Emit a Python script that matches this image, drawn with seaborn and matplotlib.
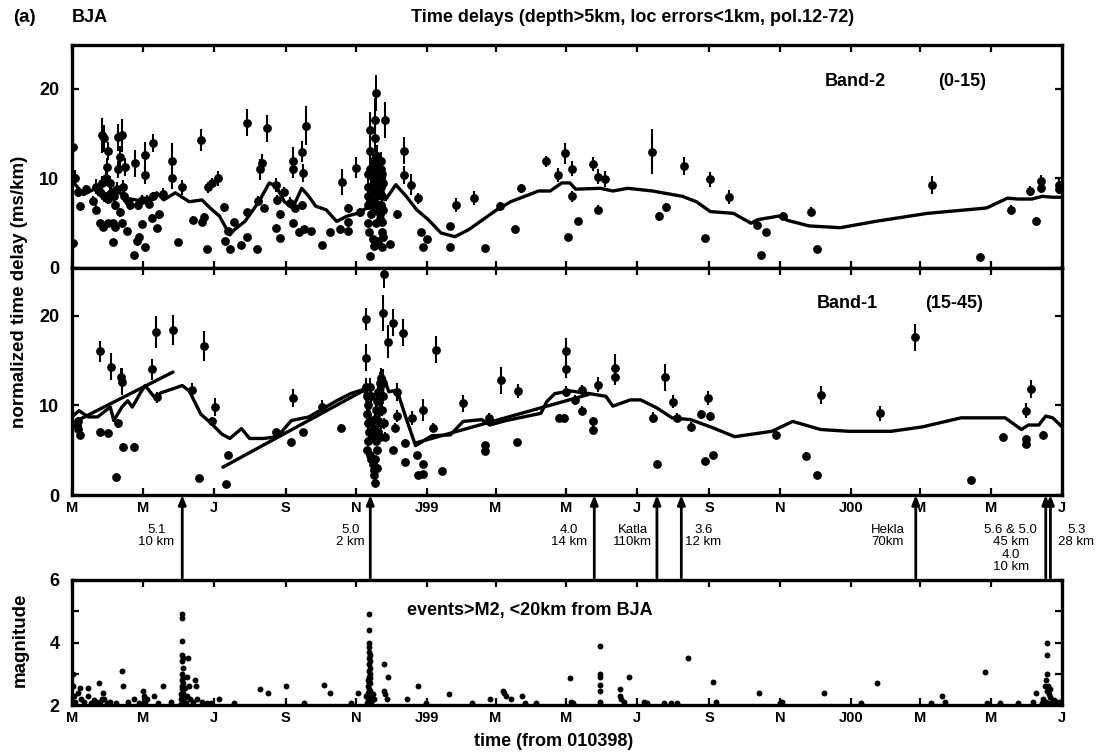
import numpy as np
import pandas as pd
import matplotlib
matplotlib.use("Agg")
import matplotlib.pyplot as plt
import seaborn as sns

# ---------------- data ----------------
START = pd.Timestamp("1998-03-01")
tick_dates = ["1998-03-01", "1998-05-01", "1998-07-01", "1998-09-01", "1998-11-01",
              "1999-01-01", "1999-03-01", "1999-05-01", "1999-07-01", "1999-09-01",
              "1999-11-01", "2000-01-01", "2000-03-01", "2000-05-01", "2000-07-01"]
tick_labels = ["M", "M", "J", "S", "N", "J99", "M", "M", "J", "S", "N", "J00", "M", "M", "J"]

# Band-2 (0-15) time delays: day since 010398, value (ms/km), error half-length
b2_day = [1, 1, 3, 5, 7, 12, 21, 21, 26, 28,
          31, 30, 29, 28, 31, 34, 27, 31, 37, 35,
          40, 43, 41, 40, 39, 44, 41, 46, 47, 54,
          53, 56, 58, 60, 63, 63, 63, 70, 69, 73,
          75, 60, 65, 57, 86, 86, 95, 91, 104, 112,
          114, 111, 116, 117, 121, 126, 131, 134, 132, 136,
          140, 146, 151, 151, 159, 151, 162, 160, 168, 164,
          165, 176, 177, 179, 176, 179, 183, 188, 190, 190,
          192, 190, 196, 198, 199, 198, 202, 200, 206, 215,
          222, 231, 233, 238, 238, 238, 245, 248, 255, 255,
          255, 255, 255, 256, 257, 257, 257, 258, 258, 257,
          258, 257, 259, 259, 260, 260, 259, 260, 259, 260,
          261, 261, 262, 261, 262, 262, 261, 262, 262, 263,
          263, 263, 263, 264, 264, 264, 265, 264, 265, 265,
          264, 266, 266, 266, 266, 267, 266, 267, 267, 267,
          268, 268, 267, 270, 274, 268, 280, 286, 286, 292,
          298, 301, 306, 302, 326, 326, 331, 346, 356, 369,
          382, 387, 408, 419, 425, 431, 431, 427, 436, 449,
          453, 459, 453, 500, 506, 512, 527, 545, 550, 566,
          590, 594, 598, 613, 637, 642, 741, 782, 809, 825,
          831, 835, 835, 850, 850, 18, 24, 26, 33, 36,
          37, 45, 48, 50, 24, 35, 43, 66, 70, 78]
b2_val = [13.5, 2.8, 10.1, 8.5, 6.9, 8.8, 9.1, 6.5, 14.8, 14.5,
          13.1, 11.3, 10.0, 8.0, 7.7, 8.4, 4.6, 5.0, 4.6, 2.9,
          14.6, 14.8, 12.4, 11.0, 8.8, 9.0, 6.2, 11.3, 4.1, 11.7,
          1.5, 3.0, 3.5, 4.9, 12.6, 10.4, 2.3, 14.0, 5.6, 4.5,
          6.0, 7.6, 7.6, 7.0, 12.0, 10.0, 9.0, 2.9, 5.4, 5.1,
          5.7, 14.3, 2.1, 9.0, 9.5, 10.0, 6.8, 4.1, 3.0, 2.1,
          5.1, 2.6, 3.5, 6.2, 2.1, 16.2, 11.0, 7.5, 15.6, 11.7,
          6.7, 9.3, 7.6, 6.0, 4.5, 3.4, 8.5, 7.3, 12.0, 11.0,
          6.7, 5.0, 4.0, 13.0, 10.6, 7.0, 15.9, 4.3, 4.1, 2.6,
          4.0, 4.3, 9.6, 6.7, 5.1, 4.1, 11.2, 6.2, 8.0, 9.0,
          10.5, 7.0, 5.0, 4.0, 15.4, 13.1, 11.0, 9.0, 8.0, 7.5,
          6.0, 1.3, 12.0, 10.0, 9.5, 8.5, 7.0, 6.5, 3.2, 2.5,
          16.5, 14.5, 12.0, 11.0, 10.0, 9.0, 8.0, 5.0, 19.5, 12.5,
          11.0, 9.5, 8.0, 11.5, 10.5, 9.0, 8.5, 7.0, 6.0, 5.5,
          3.0, 12.0, 11.0, 10.0, 9.0, 8.0, 7.0, 5.1, 4.0, 10.5,
          9.5, 6.5, 2.4, 16.5, 2.7, 3.5, 6.0, 13.1, 10.4, 9.3,
          7.8, 4.0, 3.2, 2.3, 4.7, 2.4, 7.0, 7.8, 2.2, 6.9,
          4.3, 8.9, 11.9, 10.4, 12.8, 11.1, 8.0, 3.5, 5.2, 11.6,
          10.2, 9.9, 6.5, 13.0, 5.8, 6.8, 11.4, 3.3, 9.9, 7.9,
          4.8, 1.4, 4.0, 5.8, 6.3, 2.1, 9.3, 1.2, 6.5, 8.6,
          5.3, 9.7, 8.9, 9.3, 8.8, 7.5, 8.5, 9.5, 9.5, 8.0,
          7.0, 8.0, 7.5, 7.0, 5.0, 5.0, 5.0, 7.2, 8.0, 8.3]
b2_err = [1.5, 0.0, 0.8, 0.6, 0.5, 0.5, 0.8, 0.5, 2.0, 1.5,
          1.0, 1.0, 0.8, 0.6, 0.5, 0.6, 0.3, 0.3, 0.3, 0.0,
          1.5, 1.8, 1.2, 1.0, 0.8, 0.8, 0.5, 1.0, 0.3, 1.5,
          0.0, 0.3, 0.3, 0.3, 1.5, 1.0, 0.0, 1.0, 0.4, 0.3,
          0.5, 0.5, 0.5, 0.5, 2.0, 1.2, 0.8, 0.0, 0.4, 0.4,
          0.4, 1.2, 0.0, 0.6, 0.6, 0.8, 0.5, 0.3, 0.3, 0.0,
          0.3, 0.2, 0.3, 0.4, 0.0, 1.5, 1.2, 0.5, 1.5, 1.0,
          0.5, 0.8, 0.6, 0.5, 0.3, 0.3, 0.6, 0.6, 1.5, 1.0,
          0.5, 0.3, 0.3, 1.2, 1.0, 0.5, 2.2, 0.3, 0.3, 0.0,
          0.3, 0.3, 1.5, 0.5, 0.4, 0.3, 1.2, 0.5, 0.6, 0.7,
          0.8, 0.5, 0.4, 0.3, 2.0, 1.2, 1.0, 0.8, 0.6, 0.6,
          0.5, 0.0, 1.0, 0.8, 0.8, 0.7, 0.5, 0.5, 0.3, 0.2,
          2.5, 1.5, 1.0, 1.0, 0.8, 0.8, 0.6, 0.4, 2.0, 1.2,
          1.0, 0.8, 0.6, 1.0, 0.9, 0.8, 0.7, 0.5, 0.5, 0.4,
          0.3, 1.0, 1.0, 0.8, 0.7, 0.6, 0.5, 0.4, 0.3, 0.9,
          0.8, 0.5, 0.0, 2.0, 0.0, 0.3, 0.5, 1.5, 1.0, 1.2,
          0.6, 0.3, 0.3, 0.0, 0.3, 0.0, 0.8, 0.8, 0.0, 0.5,
          0.0, 0.5, 0.6, 0.8, 1.2, 0.8, 0.6, 0.0, 0.3, 0.8,
          0.8, 0.9, 0.5, 2.5, 0.5, 0.5, 1.0, 0.0, 0.8, 0.8,
          0.3, 0.0, 0.3, 0.4, 0.5, 0.0, 1.0, 0.0, 0.5, 0.6,
          0.4, 0.7, 0.5, 0.7, 0.5, 0.5, 0.6, 0.8, 0.8, 0.6,
          0.5, 0.6, 0.5, 0.5, 0.3, 0.3, 0.3, 0.5, 0.5, 0.6]

# Band-2 running mean
b2_line_day = [0, 3, 10, 19, 27, 37, 46, 55, 64, 73, 79, 89, 101, 112, 119, 127,
               136, 140, 149, 161, 170, 176, 183, 190, 198, 204, 210, 219, 228,
               237, 246, 254, 258, 264, 270, 279, 288, 297, 307, 318, 330, 342,
               354, 366, 378, 390, 402, 412, 422, 429, 434, 455, 466, 479, 500,
               526, 538, 550, 570, 585, 591, 609, 617, 635, 662, 692, 737, 788,
               806, 815, 827, 836, 845, 853]
b2_line_val = [9.6, 9.3, 8.2, 8.8, 8.0, 8.9, 7.8, 7.6, 7.4, 8.4, 7.6, 8.4, 7.4, 7.6,
               6.7, 5.8, 3.7, 4.3, 5.2, 7.4, 9.5, 9.1, 7.4, 6.7, 8.9, 8.0, 6.9,
               6.5, 5.2, 5.8, 6.1, 6.7, 8.2, 9.1, 7.6, 9.3, 8.0, 6.5, 5.4, 3.9,
               3.5, 4.3, 5.4, 6.5, 7.4, 8.0, 8.6, 8.6, 9.5, 9.5, 8.8, 8.9, 8.6,
               8.9, 8.6, 8.0, 7.4, 6.3, 6.1, 5.0, 5.4, 5.8, 5.3, 4.7, 4.5, 5.2,
               6.1, 6.7, 7.8, 7.7, 7.7, 8.0, 7.9, 7.9]

# Band-1 (15-45) time delays
b1_day = [5, 5, 7, 4, 24, 24, 31, 34, 43, 42,
          40, 44, 53, 38, 69, 72, 73, 87, 103, 114,
          123, 121, 109, 134, 133, 176, 189, 190, 199, 215,
          232, 253, 253, 268, 269, 277, 285, 272, 314, 302,
          311, 319, 293, 280, 278, 277, 287, 287, 297, 302,
          298, 302, 280, 253, 254, 255, 254, 255, 256, 255,
          254, 257, 258, 259, 260, 260, 261, 259, 260, 261,
          262, 263, 264, 265, 266, 262, 264, 266, 267, 268,
          268, 263, 265, 257, 258, 269, 270, 261, 263, 337,
          356, 356, 359, 370, 383, 384, 420, 424, 426, 426,
          426, 433, 439, 439, 449, 449, 453, 468, 468, 501,
          504, 511, 518, 521, 533, 542, 548, 550, 545, 552,
          607, 632, 642, 645, 696, 726, 775, 802, 822, 822,
          822, 826, 837]
b1_val = [8.2, 7.4, 6.7, 7.8, 16.0, 7.0, 6.9, 14.3, 12.6, 13.2,
          8.0, 5.4, 5.4, 2.0, 14.0, 18.2, 10.9, 18.4, 11.7, 16.6,
          9.8, 8.2, 1.9, 4.5, 1.2, 7.0, 5.9, 10.8, 7.0, 9.8,
          7.5, 19.6, 15.3, 20.3, 24.6, 19.2, 18.1, 17.1, 16.2, 9.5,
          7.5, 2.7, 8.6, 8.8, 7.5, 5.0, 5.8, 3.7, 4.5, 3.5,
          2.2, 2.3, 11.5, 12.0, 11.0, 10.0, 9.0, 8.0, 7.0, 6.0,
          5.0, 4.5, 4.0, 3.4, 2.8, 2.2, 1.3, 6.5, 7.5, 8.5,
          9.5, 10.5, 11.5, 12.5, 13.0, 6.0, 7.0, 8.0, 9.5, 11.0,
          12.5, 5.0, 6.5, 12.0, 11.0, 8.0, 6.5, 4.0, 3.0, 10.2,
          5.6, 4.9, 8.6, 12.8, 5.9, 11.6, 8.6, 8.6, 16.0, 14.0,
          11.5, 10.6, 11.7, 9.4, 8.2, 7.3, 12.3, 14.2, 13.1, 8.6,
          3.4, 13.1, 10.4, 8.6, 7.6, 9.0, 10.8, 8.8, 3.8, 4.5,
          6.7, 4.4, 2.2, 11.1, 9.1, 17.6, 1.7, 6.5, 9.4, 6.2,
          5.7, 11.8, 6.7]
b1_err = [0.5, 0.5, 0.5, 0.5, 1.2, 0.4, 0.4, 1.5, 1.5, 1.0,
          0.5, 0.4, 0.4, 0.0, 1.2, 1.8, 0.6, 1.7, 0.8, 1.7,
          1.0, 0.5, 0.0, 0.3, 0.0, 0.4, 0.3, 1.0, 0.4, 0.8,
          0.4, 1.2, 1.5, 2.0, 1.5, 1.5, 1.5, 1.8, 1.5, 1.2,
          0.5, 0.0, 0.8, 0.7, 0.5, 0.3, 0.4, 0.0, 0.3, 0.3,
          0.0, 0.0, 1.0, 1.0, 0.9, 0.8, 0.7, 0.6, 0.5, 0.5,
          0.4, 0.3, 0.3, 0.3, 0.2, 0.0, 0.0, 0.5, 0.5, 0.6,
          0.8, 0.8, 1.0, 1.2, 1.2, 0.4, 0.5, 0.6, 0.7, 0.9,
          1.5, 0.4, 0.5, 1.0, 1.0, 0.6, 0.5, 0.3, 0.3, 1.0,
          0.3, 0.3, 0.5, 1.5, 0.3, 0.8, 0.4, 0.4, 1.5, 1.0,
          0.6, 0.6, 0.6, 0.5, 0.5, 0.4, 0.8, 1.5, 0.8, 0.6,
          0.0, 1.5, 0.7, 0.5, 0.5, 0.5, 0.8, 0.5, 0.0, 0.3,
          0.4, 0.4, 0.0, 1.0, 0.8, 1.5, 0.0, 0.3, 0.8, 0.4,
          0.3, 1.0, 0.4]

# Band-1 running mean
b1_line_day = [0, 6, 14, 22, 33, 36, 43, 48, 52, 59, 63, 71, 77, 86, 95, 101,
               111, 119, 129, 136, 146, 153, 165, 177, 189, 204, 228, 240, 252,
               258, 262, 266, 269, 273, 280, 288, 296, 310, 326, 337, 353, 360,
               374, 404, 409, 416, 429, 446, 460, 466, 481, 490, 504, 517, 533,
               552, 571, 603, 621, 645, 669, 706, 733, 766, 804, 818, 824, 833,
               839, 845, 853]
b1_line_val = [8.7, 9.4, 8.7, 8.7, 9.8, 8.3, 9.8, 10.5, 9.8, 11.4, 12.2, 10.9,
               11.4, 11.8, 12.2, 11.6, 9.0, 8.1, 6.8, 6.3, 7.4, 6.3, 6.3, 6.5,
               8.3, 8.7, 10.5, 11.3, 11.8, 8.0, 6.5, 10.0, 13.0, 11.5, 11.7, 8.5,
               5.5, 6.6, 6.7, 8.2, 8.4, 7.8, 8.3, 9.1, 10.4, 11.3, 11.6, 11.3,
               11.0, 9.9, 10.6, 10.6, 9.7, 8.6, 8.4, 7.5, 6.5, 7.1, 8.2, 7.3,
               7.1, 7.1, 7.6, 8.6, 8.6, 7.3, 7.8, 7.8, 8.8, 8.6, 7.6]

# Band-1 straight-line fits (start day, end day, start value, end value)
fit_day0 = [0, 130, 296]
fit_day1 = [87, 252, 445]
fit_val0 = [8.0, 3.1, 5.8]
fit_val1 = [13.7, 11.7, 11.2]

# events > M2 within 20 km of BJA
ev_day = [1, 1, 2, 3, 5, 7, 8, 10, 14, 14, 16, 19, 21, 23, 24, 26, 27, 28, 30, 33,
          38, 43, 44, 48, 53, 58, 61, 62, 63, 65, 71, 74, 78, 85,
          95, 95, 95, 95, 96, 95, 96, 95, 96, 95, 96, 95, 97, 95, 96, 94, 95, 97,
          94, 96, 95, 98, 93, 99, 100, 101, 99, 102, 104,
          106, 107, 108, 112, 116, 120, 127, 140, 162, 169, 184, 200, 217, 222,
          240, 246,
          256, 256, 256, 256, 256, 257, 256, 257, 256, 257, 256, 257, 256, 257,
          255, 256, 257, 255, 256, 257, 255, 256, 257, 255, 256, 258, 254, 256,
          259, 253, 260,
          269, 272, 269, 270, 271, 289, 298, 305, 325, 345, 360, 371, 372, 374,
          378, 388, 390, 400,
          429, 430, 432, 455, 455, 455, 455, 455, 455, 472, 472, 473, 476, 480,
          493, 495, 510, 516, 521, 531, 552, 555, 592, 610, 612, 648, 680, 694,
          740, 750, 752, 787, 788, 800, 815, 828,
          840, 840, 840, 839, 838, 841, 840, 842, 843, 831, 844, 845, 846, 847,
          848, 849, 850, 851, 839, 841, 837, 836, 843]
ev_mag = [3.0, 2.6, 2.3, 2.1, 2.4, 2.55, 2.2, 2.1, 2.55, 2.3, 2.05, 2.15, 2.1, 2.7,
          2.1, 2.2, 2.4, 2.2, 2.05, 2.1,
          2.05, 3.1, 2.6, 2.1, 2.2, 2.05, 2.45, 2.3, 2.1, 2.2, 2.3, 2.05, 2.6, 2.1,
          4.9, 4.8, 4.05, 3.6, 3.5, 3.4, 3.2, 3.0, 2.9, 2.8, 2.7, 2.6, 2.55, 2.5,
          2.4, 2.35, 2.3, 2.25,
          2.2, 2.15, 2.1, 2.05, 2.0, 2.3, 3.5, 2.6, 2.9, 2.2, 2.1,
          2.8, 2.6, 2.2, 2.1, 2.07, 2.05, 2.2, 2.05, 2.5, 2.4, 2.6, 2.05, 2.65, 2.4,
          2.05, 2.4,
          4.9, 4.4, 4.0, 3.85, 3.7, 3.6, 3.5, 3.4, 3.3, 3.2, 3.1, 3.0, 2.9, 2.85,
          2.8, 2.75, 2.7, 2.6, 2.5, 2.45, 2.4, 2.3, 2.25, 2.2, 2.15, 2.1, 2.05, 2.0,
          2.35, 2.3, 2.2,
          3.3, 2.9, 2.45, 2.35, 2.2, 2.2, 2.6, 2.05, 2.35, 2.05, 2.2, 2.45, 2.4, 2.3,
          2.2, 2.3, 2.05, 2.05,
          2.85, 2.1, 2.05, 3.9, 3.0, 2.9, 2.65, 2.45, 2.1, 2.5, 2.3, 2.2, 2.1, 2.9,
          2.1, 2.05, 2.05, 2.05, 2.05, 3.5, 2.75, 2.1, 2.4, 2.05, 2.1, 2.4, 2.05, 2.7,
          2.05, 2.3, 2.1, 3.05, 2.07, 2.05, 2.05, 2.1,
          4.0, 3.6, 3.0, 2.8, 2.6, 2.6, 2.45, 2.35, 2.25, 2.4, 2.1, 2.05, 2.15, 2.05,
          2.1, 2.05, 2.1, 2.0, 2.1, 2.05, 2.2, 2.05, 2.5]

# marked events (arrows)
arrow_dates = ["1998-06-04", "1998-11-13", "1999-05-25", "1999-07-18",
               "1999-08-08", "2000-02-26", "2000-06-17", "2000-06-21"]
arrow_labels = ["5.1\n10 km", "5.0\n2 km", "4.0\n14 km", "Katla\n110km",
                "3.6\n12 km", "Hekla\n70km", "5.6 & 5.0\n45 km\n4.0\n10 km", "5.3\n28 km"]

# ---------------- drawing ----------------
sns.set_style("ticks")
plt.rcParams["font.family"] = ["Liberation Sans", "DejaVu Sans"]
for key in ["text.color", "axes.labelcolor", "xtick.color", "ytick.color",
            "axes.edgecolor"]:
    plt.rcParams[key] = "black"

def days(dates):
    return [(pd.Timestamp(d) - START).days for d in dates]

tick_days = days(tick_dates)
arrow_days = days(arrow_dates)
XMAX = tick_days[-1]

W, H = 1101, 753
fig = plt.figure(figsize=(W / 100, H / 100), dpi=100)

def rect(l, t, r, b):
    return [l / W, 1 - b / H, (r - l) / W, (b - t) / H]

ax2 = fig.add_axes(rect(72, 45, 1062, 268))
ax1 = fig.add_axes(rect(72, 268, 1062, 495))
ax3 = fig.add_axes(rect(72, 580, 1062, 705))

def style_axis(ax, show_labels):
    ax.set_xlim(0, XMAX)
    ax.set_xticks(tick_days)
    if show_labels:
        ax.set_xticklabels(tick_labels, fontsize=10.5, fontweight="bold")
    else:
        ax.set_xticklabels([])
    ax.tick_params(axis="both", direction="in", top=True, right=True,
                   length=5, width=1.6, colors="black")
    ax.tick_params(axis="x", pad=4)
    ax.tick_params(axis="y", labelsize=13, pad=9)
    for lab in ax.get_yticklabels():
        lab.set_fontweight("bold")
    ax.tick_params(which="minor", direction="in", right=True, left=True,
                   length=5, width=1.6)
    for sp in ax.spines.values():
        sp.set_linewidth(2.4)
        sp.set_color("black")
        sp.set_visible(True)
    ax.set_xlabel("")
    ax.set_ylabel("")

def draw_points(ax, d, v, e):
    d = np.asarray(d, float)
    v = np.asarray(v, float)
    e = np.asarray(e, float)
    has = e > 0
    ax.vlines(d[has], (v - e)[has], (v + e)[has], color="black", lw=1.5, zorder=3)
    sns.scatterplot(x=d, y=v, ax=ax, color="black", s=40, linewidth=0, zorder=4,
                    legend=False)

# Band-2
draw_points(ax2, b2_day, b2_val, b2_err)
sns.lineplot(x=b2_line_day, y=b2_line_val, ax=ax2, color="black", lw=2.4,
             sort=False, estimator=None, zorder=5)
ax2.set_ylim(0, 24.9)
ax2.set_yticks([0, 10, 20])
style_axis(ax2, False)

# Band-1
draw_points(ax1, b1_day, b1_val, b1_err)
sns.lineplot(x=b1_line_day, y=b1_line_val, ax=ax1, color="black", lw=2.4,
             sort=False, estimator=None, zorder=5)
for d0, d1, v0, v1 in zip(fit_day0, fit_day1, fit_val0, fit_val1):
    sns.lineplot(x=[d0, d1], y=[v0, v1], ax=ax1, color="black", lw=2.4,
                 estimator=None, zorder=5)
ax1.set_ylim(0, 25.3)
ax1.set_yticks([0, 10, 20])
style_axis(ax1, True)

# magnitude
sns.scatterplot(x=ev_day, y=ev_mag, ax=ax3, color="black", s=18, linewidth=0,
                legend=False, zorder=4)
ax3.set_ylim(2, 6)
ax3.set_yticks([2, 4, 6])
ax3.set_yticks([3, 5], minor=True)
style_axis(ax3, True)

# arrows and their labels
trans = ax1.get_xaxis_transform()
arrow_bottom = -(578 - 495) / 227.0
label_top = -(524 - 495) / 227.0
label_offsets = [-26, -20, -25, -24, 22, -28, -35, 26]
for d in arrow_days:
    ax1.annotate("", xy=(d, 0.0), xycoords=trans, xytext=(d, arrow_bottom),
                 textcoords=trans, annotation_clip=False,
                 arrowprops=dict(arrowstyle="-|>,head_length=0.55,head_width=0.22",
                                 color="black", lw=2.0, shrinkA=0, shrinkB=0))
for d, lab, off in zip(arrow_days, arrow_labels, label_offsets):
    ax1.annotate(lab, xy=(d, label_top), xycoords=trans,
                 xytext=(off * 0.72, 0), textcoords="offset points",
                 ha="center", va="top", fontsize=9.5, linespacing=1.05,
                 annotation_clip=False, color="black")

def ftext(x, y, s, **kw):
    fig.text(x / W, 1 - y / H, s, color="black", **kw)

ftext(13, 17, "(a)", fontsize=13.5, va="center", ha="left", fontweight="bold")
ftext(72, 17, "BJA", fontsize=13, va="center", ha="left", fontweight="bold")
ftext(633, 17, "Time delays (depth>5km, loc errors<1km, pol.12-72)", fontsize=13,
      va="center", ha="center", fontweight="bold")
ftext(825, 81, "Band-2", fontsize=13, va="center", ha="left", fontweight="bold")
ftext(938, 81, "(0-15)", fontsize=13, va="center", ha="left", fontweight="bold")
ftext(817, 304, "Band-1", fontsize=13, va="center", ha="left", fontweight="bold")
ftext(925, 304, "(15-45)", fontsize=13, va="center", ha="left", fontweight="bold")
ftext(20, 292, "normalized time delay (ms/km)", fontsize=13.5, rotation=90,
      va="center", ha="center", fontweight="bold")
ftext(20, 640, "magnitude", fontsize=13.5, rotation=90, va="center", ha="center",
      fontweight="bold")
ftext(530, 610, "events>M2, <20km from BJA", fontsize=13, va="center", ha="center",
      fontweight="bold")
ftext(554, 741, "time (from 010398)", fontsize=13, va="center", ha="center",
      fontweight="bold")

fig.savefig("out.png", dpi=100, facecolor="white")
